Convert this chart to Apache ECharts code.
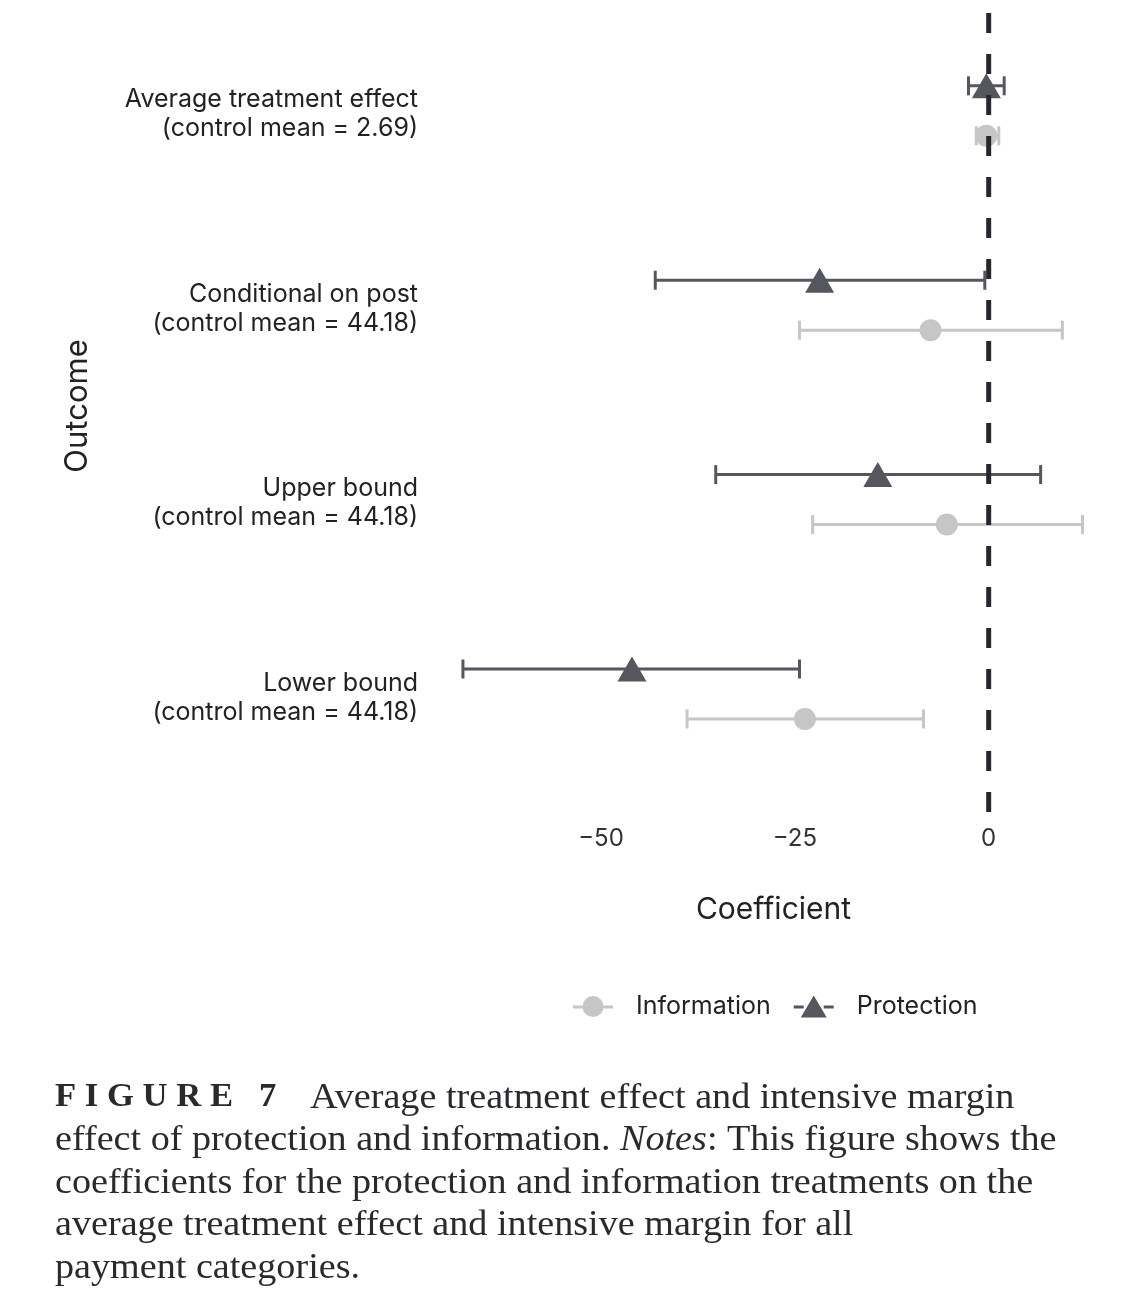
<!DOCTYPE html>
<html>
<head>
<meta charset="utf-8">
<script src="https://cdn.jsdelivr.net/npm/echarts@6/dist/echarts.min.js"></script>
<style>
html,body{margin:0;padding:0;background:#fff;}
#chart{width:1136px;height:1306px;}
</style>
</head>
<body>
<div id="chart"></div>
<script>
// ---- data ----
const categories = [
  'Average treatment effect\n(control mean = 2.69)',
  'Conditional on post\n(control mean = 44.18)',
  'Upper bound\n(control mean = 44.18)',
  'Lower bound\n(control mean = 44.18)'
];
const protectionEst = [-0.3, -21.8, -14.3, -46.0];
const protectionLo  = [-2.6, -43.0, -35.2, -67.8];
const protectionHi  = [2.0, -0.5, 6.7, -24.4];
const informationEst = [-0.3, -7.5, -5.4, -23.7];
const informationLo  = [-1.6, -24.4, -22.7, -38.9];
const informationHi  = [1.3, 9.5, 12.1, -8.4];
const xTicks = [-50, -25, 0];
const refLine = 0;

const PROT_COLOR = '#56575e';
const INFO_COLOR = '#c6c6c6';
const DODGE = 0.1285;
const LABEL_SHIFT = 0.018;
const FONT = 'Inter, "Liberation Sans", sans-serif';
const SERIF = '"Liberation Serif", "DejaVu Serif", serif';

const catPos = categories.map((c, i) => i + 1);
const protPts = protectionEst.map((v, i) => [v, catPos[i] - DODGE]);
const infoPts = informationEst.map((v, i) => [v, catPos[i] + DODGE]);
const protBars = protectionLo.map((v, i) => [v, protectionHi[i], catPos[i] - DODGE]);
const infoBars = informationLo.map((v, i) => [v, informationHi[i], catPos[i] + DODGE]);

function errRender(color) {
  return function (params, api) {
    const a = api.coord([api.value(0), api.value(2)]);
    const b = api.coord([api.value(1), api.value(2)]);
    const style = { stroke: color, lineWidth: 3 };
    const cap = 9.5;
    return {
      type: 'group',
      children: [
        { type: 'line', shape: { x1: a[0], y1: a[1], x2: b[0], y2: b[1] }, style },
        { type: 'line', shape: { x1: a[0], y1: a[1] - cap, x2: a[0], y2: a[1] + cap }, style },
        { type: 'line', shape: { x1: b[0], y1: b[1] - cap, x2: b[0], y2: b[1] + cap }, style }
      ]
    };
  };
}

const infoIcon = 'path://M0,10h10v3h-10z M30,10h10v3h-10z M20,0.5a10.5,10.5 0 1 1 0,21a10.5,10.5 0 1 1 0,-21z';
const protIcon = 'path://M0,10h10v3h-10z M30,10h10v3h-10z M20,0L33,22H7z';

const CAP_FILL = '#2a2a2e';
function capLine(text, left, top, extra) {
  return Object.assign({ type: 'text', left: left, top: top, scaleX: 1.09,
    style: Object.assign({ text: text, font: '35px ' + SERIF, fill: CAP_FILL }, extra || {}) });
}

const chart = echarts.init(document.getElementById('chart'), null, { renderer: 'canvas' });
chart.setOption({
  backgroundColor: '#fff',
  animation: false,
  grid: { left: 442, right: 31, top: 0, height: 812, containLabel: false },
  xAxis: {
    type: 'value', min: -70.5, max: 15,
    axisLine: { show: false }, axisTick: { show: false }, splitLine: { show: false },
    axisLabel: {
      customValues: xTicks, color: '#333', fontFamily: FONT, fontSize: 24, margin: 15,
      formatter: v => String(v).replace('-', '\u2212')
    },
    name: 'Coefficient', nameLocation: 'middle', nameGap: 83,
    nameTextStyle: { color: '#222', fontFamily: FONT, fontSize: 30 }
  },
  yAxis: {
    type: 'value', inverse: true, min: 0.43, max: 4.607,
    axisLine: { show: false }, axisTick: { show: false }, splitLine: { show: false },
    axisLabel: {
      customValues: catPos.map(v => v + LABEL_SHIFT), color: '#222', fontFamily: FONT, fontSize: 25,
      lineHeight: 29, margin: 24, align: 'right',
      formatter: v => categories[Math.round(v) - 1] || ''
    },
    name: 'Outcome', nameLocation: 'middle', nameGap: 349, nameRotate: 90,
    nameTextStyle: { color: '#222', fontFamily: FONT, fontSize: 31 }
  },
  legend: {
    left: 568, top: 989, itemWidth: 40, itemHeight: 22, itemGap: 23,
    textStyle: { color: '#222', fontFamily: FONT, fontSize: 25, padding: [0, 0, 0, 18] },
    data: [
      { name: 'Information', icon: infoIcon, itemStyle: { color: INFO_COLOR } },
      { name: 'Protection', icon: protIcon, itemStyle: { color: PROT_COLOR } }
    ]
  },
  series: [
    { name: 'Information', type: 'custom', renderItem: errRender(INFO_COLOR), data: infoBars,
      encode: { x: [0, 1], y: 2 }, z: 2, silent: true },
    { name: 'Protection', type: 'custom', renderItem: errRender(PROT_COLOR), data: protBars,
      encode: { x: [0, 1], y: 2 }, z: 2, silent: true },
    { name: 'Information', type: 'scatter', data: infoPts, symbol: 'circle', symbolSize: 22,
      itemStyle: { color: INFO_COLOR, opacity: 1 }, z: 3 },
    { name: 'Protection', type: 'scatter', data: protPts, symbol: 'triangle', symbolSize: [29, 25],
      itemStyle: { color: PROT_COLOR, opacity: 1 }, z: 3 },
    { name: 'ref', type: 'line', data: [[refLine, 4.607], [refLine, 0.43]], symbol: 'none',
      lineStyle: { color: '#25272d', width: 5, type: [20, 21] }, z: 5, silent: true }
  ],
  graphic: [
    { type: 'text', left: 55, top: 1081, scaleX: 1.05,
      style: { text: 'F I G U R E   7', font: 'bold 33px ' + SERIF, fill: CAP_FILL } },
    capLine('Average treatment effect and intensive margin', 310, 1081),
    capLine('effect of protection and information. {i|Notes}: This figure shows the', 55, 1123,
      { rich: { i: { fontStyle: 'italic', fontFamily: SERIF, fontSize: 35, fill: CAP_FILL } } }),
    capLine('coefficients for the protection and information treatments on the', 55, 1166),
    capLine('average treatment effect and intensive margin for all', 55, 1208),
    capLine('payment categories.', 55, 1251)
  ]
});
</script>
</body>
</html>
